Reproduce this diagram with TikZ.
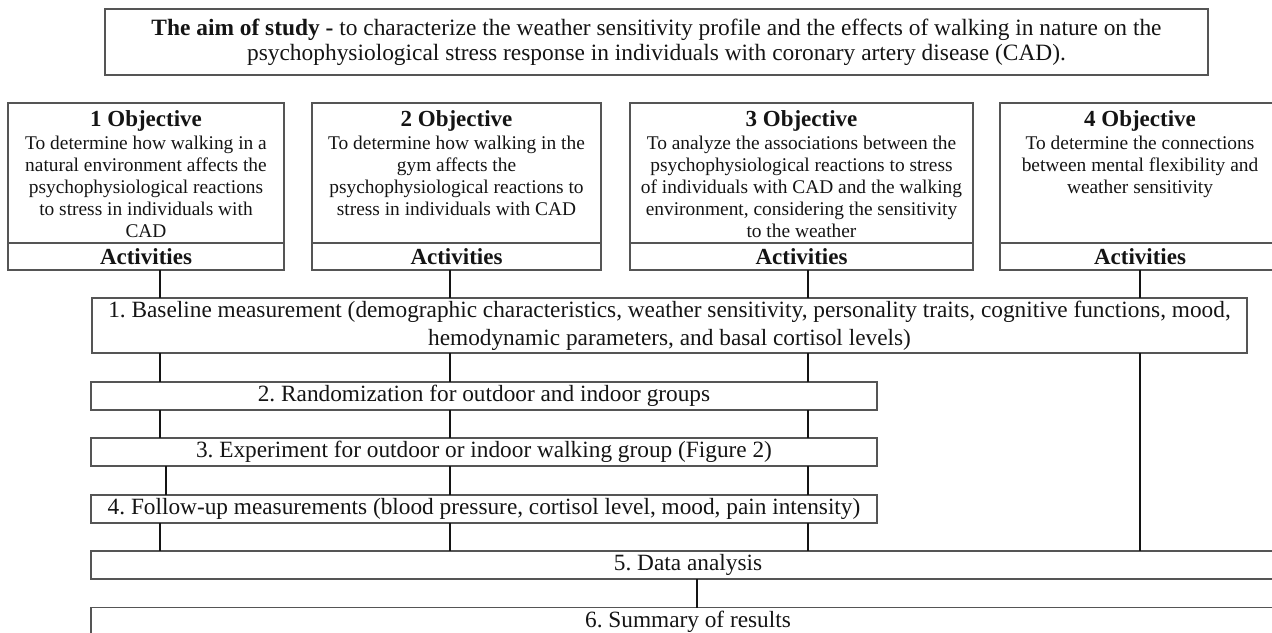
\documentclass[tikz,border=0pt]{standalone}
\usepackage{fontspec}
\setmainfont{Liberation Serif}
\usetikzlibrary{positioning}
\definecolor{ink}{RGB}{20,20,20}
\definecolor{frame}{RGB}{85,85,85}
\frenchspacing
\tikzset{
  box/.style={draw=frame, line width=1.1pt, inner sep=0pt, outer sep=0pt, align=center,
    text=ink},
  objbox/.style={box, minimum height=140pt},
  actbox/.style={box, minimum height=27pt, font=\fontsize{23}{25}\selectfont\bfseries},
  objtitle/.style={inner sep=0pt, font=\fontsize{23}{25}\selectfont\bfseries, text=ink},
  objtext/.style={inner sep=0pt, align=center, font=\fontsize{19.4}{22}\selectfont, text=ink},
  stepbox/.style={box, minimum height=28pt, font=\fontsize{23.3}{28}\selectfont},
  link/.style={draw=ink, line width=2.2pt},
}
\begin{document}
\begin{tikzpicture}[x=1pt, y=-1pt]
  \useasboundingbox (0,0) rectangle (1272,632);
  \node[box, minimum width=1103pt, minimum height=66pt, font=\fontsize{23.4}{25}\selectfont] (aim)
    at (656.5,42) {\textbf{The aim of study -} to characterize the weather sensitivity profile
    and the effects of walking in nature on the\\ psychophysiological stress response in
    individuals with coronary artery disease (CAD).};
  % objectives
  \foreach \i/\cx/\w in {1/146/276, 2/456.5/289, 3/801.5/343, 4/1140/280} {
    \node[objbox, minimum width=\w pt] (o\i) at (\cx,173) {};
    \node[actbox, minimum width=\w pt, below=0pt of o\i] (a\i) {Activities};
    \node[objtitle, below=7pt of o\i.north] (t\i) {\i{} Objective};
  }
  \node[objtext, below=5pt of t1] (d1) {To determine how walking in a\\natural environment affects the\\
    psychophysiological reactions\\to stress in individuals with\\CAD};
  \node[objtext, below=5pt of t2] (d2) {To determine how walking in the\\gym affects the\\
    psychophysiological reactions to\\stress in individuals with CAD};
  \node[objtext, below=5pt of t3] (d3) {To analyze the associations between the\\
    psychophysiological reactions to stress\\of individuals with CAD and the walking\\
    environment, considering the sensitivity\\to the weather};
  \node[objtext, below=5pt of t4] (d4) {To determine the connections\\between mental flexibility and\\
    weather sensitivity};
  % activities
  \node[stepbox, minimum width=1155pt, minimum height=55pt] (base) at (669.5,325.5)
    {1. Baseline measurement (demographic characteristics, weather sensitivity, personality
    traits, cognitive functions, mood,\\ hemodynamic parameters, and basal cortisol levels)};
  \node[stepbox, minimum width=786pt] (rand) at (484,396) {2. Randomization for outdoor and indoor groups};
  \node[stepbox, minimum width=786pt] (expe) at (484,452) {3. Experiment for outdoor or indoor walking group (Figure 2)};
  \node[stepbox, minimum width=786pt] (foll) at (484,509) {4. Follow-up measurements (blood pressure, cortisol level, mood, pain intensity)};
  \node[stepbox, minimum width=1194pt] (data) at (688,565) {5. Data analysis};
  \node[stepbox, minimum width=1194pt] (summ) at (688,621.5) {6. Summary of results};
  % connector columns
  \coordinate (cA) at (160,0); \coordinate (cB) at (450,0); \coordinate (cC) at (808,0);
  \coordinate (cD) at (1140,0); \coordinate (cE) at (166,0); \coordinate (cF) at (697,0);
  \foreach \i/\c in {1/cA, 2/cB, 3/cC, 4/cD} \draw[link] (a\i.south -| \c) -- (base.north -| \c);
  \foreach \c in {cA, cB, cC} {
    \draw[link] (base.south -| \c) -- (rand.north -| \c);
    \draw[link] (rand.south -| \c) -- (expe.north -| \c);
    \draw[link] (foll.south -| \c) -- (data.north -| \c);
  }
  \foreach \c in {cE, cB, cC} \draw[link] (expe.south -| \c) -- (foll.north -| \c);
  \draw[link] (base.south -| cD) -- (data.north -| cD);
  \draw[link] (data.south -| cF) -- (summ.north -| cF);
\end{tikzpicture}
\end{document}
